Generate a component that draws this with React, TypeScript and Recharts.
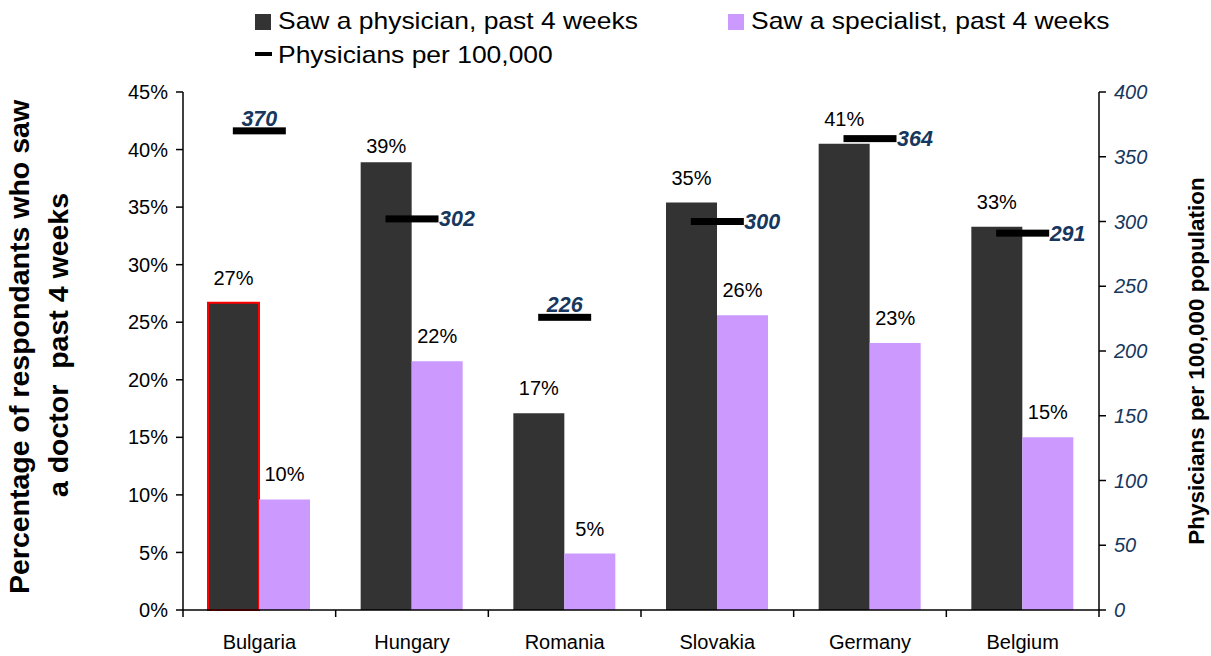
import React from "react";
import { ComposedChart, Bar, Line, XAxis, YAxis, Cell, LabelList } from "recharts";

const countries = ["Bulgaria", "Hungary", "Romania", "Slovakia", "Germany", "Belgium"];
const sawPhysician = [26.7, 38.9, 17.1, 35.4, 40.5, 33.3];
const sawSpecialist = [9.6, 21.6, 4.9, 25.6, 23.2, 15.0];
const physiciansPer100k = [370, 302, 226, 300, 364, 291];
const pctTicks = [0, 5, 10, 15, 20, 25, 30, 35, 40, 45];
const densityTicks = [0, 50, 100, 150, 200, 250, 300, 350, 400];

const data = countries.map((country, i) => ({
  country,
  physician: sawPhysician[i],
  specialist: sawSpecialist[i],
  density: physiciansPer100k[i],
}));

const BLUE = "#17375E";

// tick marks sit between categories, like the original spreadsheet chart
const CountryTick = (props: any) => {
  const { x, y, payload, index } = props;
  const half = payload.offset || 76;
  return (
    <g>
      <line x1={x + half} y1={y} x2={x + half} y2={y + 7} stroke="#000" strokeWidth={1.5} />
      {index === 0 && <line x1={x - half} y1={y} x2={x - half} y2={y + 7} stroke="#000" strokeWidth={1.5} />}
      <text x={x} y={y + 39} textAnchor="middle" fontSize={20} fill="#000">
        {payload.value}
      </text>
    </g>
  );
};

const DashDot = (props: any) => {
  const { cx, cy } = props;
  if (cx == null || cy == null) return null;
  return <rect x={cx - 26.5} y={cy - 3.5} width={53} height={7} fill="#000" />;
};

const DensityLabel = (props: any) => {
  const { x, y, value, index } = props;
  const above = index === 0 || index === 2;
  return (
    <text
      x={above ? x : x + 27}
      y={above ? y - 5 : y + 7.5}
      textAnchor={above ? "middle" : "start"}
      fontSize={21.5}
      fontWeight="bold"
      fontStyle="italic"
      fill={BLUE}
    >
      {value}
    </text>
  );
};

const PctLabel = (gapFor: (i: number) => number) => (props: any) => {
  const { x, y, width, value, index } = props;
  return (
    <text x={x + width / 2} y={y - gapFor(index)} textAnchor="middle" fontSize={20} fill="#000">
      {Math.round(value)}%
    </text>
  );
};

export default function App() {
  return (
    <div style={{ position: "absolute", left: 0, top: 0, width: 1211, height: 656, background: "#fff", fontFamily: "'Liberation Sans', Arial, sans-serif" }}>
      <ComposedChart width={1211} height={656} data={data} margin={{ top: 92, right: 0, bottom: 0, left: 0 }} barGap={0}>
        <XAxis dataKey="country" height={46} tickSize={0} tickMargin={0} tickLine={false} axisLine={{ stroke: "#000", strokeWidth: 1.5 }} tick={<CountryTick />} interval={0} />
        <YAxis
          yAxisId="pct"
          width={183}
          domain={[0, 45]}
          ticks={pctTicks}
          tickFormatter={(v: number) => `${v}%`}
          tick={{ fontSize: 20, fill: "#000" }}
          tickSize={7}
          tickMargin={8}
          axisLine={{ stroke: "#000", strokeWidth: 1.5 }}
          tickLine={{ stroke: "#000", strokeWidth: 1.5 }}
        />
        <YAxis
          yAxisId="dens"
          orientation="right"
          width={112}
          domain={[0, 400]}
          ticks={densityTicks}
          tick={{ fontSize: 20, fill: BLUE, fontStyle: "italic" }}
          tickSize={7}
          tickMargin={8}
          axisLine={{ stroke: "#000", strokeWidth: 1.5 }}
          tickLine={{ stroke: "#000", strokeWidth: 1.5 }}
        />
        <Bar yAxisId="pct" dataKey="physician" fill="#333333" barSize={51} isAnimationActive={false}>
          {data.map((d, i) => (
            <Cell key={d.country} fill="#333333" stroke={i === 0 ? "#FF0000" : "none"} strokeWidth={i === 0 ? 2 : 0} />
          ))}
          <LabelList dataKey="physician" content={PctLabel((i) => (i === 1 ? 9 : 18))} />
        </Bar>
        <Bar yAxisId="pct" dataKey="specialist" fill="#CC99FF" barSize={51} isAnimationActive={false}>
          <LabelList dataKey="specialist" content={PctLabel(() => 18)} />
        </Bar>
        <Line yAxisId="dens" dataKey="density" stroke="none" dot={<DashDot />} activeDot={false} isAnimationActive={false}>
          <LabelList dataKey="density" content={DensityLabel} />
        </Line>
      </ComposedChart>

      <svg width={1211} height={656} style={{ position: "absolute", left: 0, top: 0, pointerEvents: "none" }}>
        {/* legend */}
        <rect x={255} y={14} width={16} height={16} fill="#333333" />
        <text transform="translate(278,29) scale(1.15,1)" fontSize={23} fill="#000">Saw a physician, past 4 weeks</text>
        <rect x={728} y={14} width={16} height={16} fill="#CC99FF" />
        <text transform="translate(751,29) scale(1.15,1)" fontSize={23} fill="#000">Saw a specialist, past 4 weeks</text>
        <rect x={255} y={52} width={17} height={4} fill="#000" />
        <text transform="translate(278,63) scale(1.15,1)" fontSize={23} fill="#000">Physicians per 100,000</text>

        {/* axis titles */}
        <text transform="translate(29,347) rotate(-90)" textAnchor="middle" fontSize={28.5} fontWeight="bold" fill="#000">
          Percentage of respondants who saw
        </text>
        <text transform="translate(68,345) rotate(-90)" textAnchor="middle" fontSize={28.5} fontWeight="bold" fill="#000" style={{ whiteSpace: "pre" }}>
          {"a doctor  past 4 weeks"}
        </text>
        <text transform="translate(1204,361) rotate(-90)" textAnchor="middle" fontSize={22.5} fontWeight="bold" fill="#000">
          Physicians per 100,000 population
        </text>
      </svg>
    </div>
  );
}
